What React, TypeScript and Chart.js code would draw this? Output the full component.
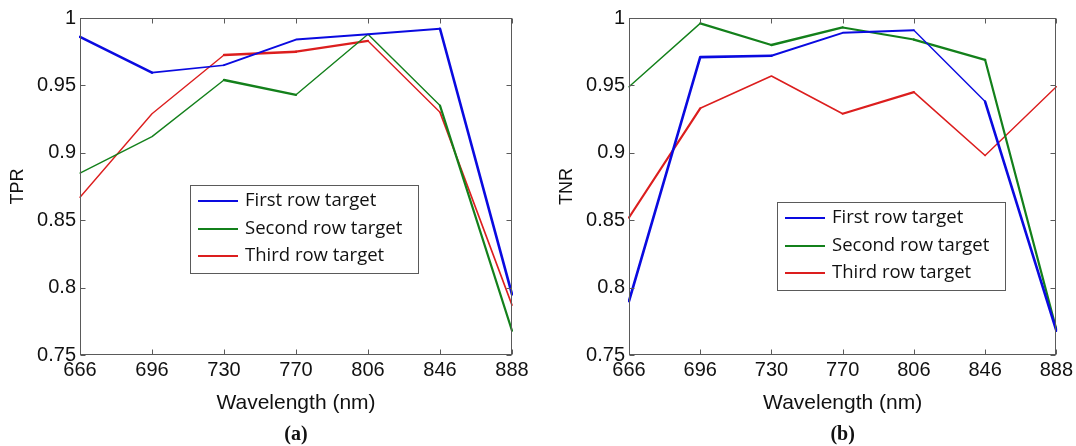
import React, { useEffect, useRef } from 'react';
import { Chart, registerables } from 'chart.js';
Chart.register(...registerables);

// ---- data ----
const wavelengths = ['666', '696', '730', '770', '806', '846', '888'];
const yTicks = [0.75, 0.8, 0.85, 0.9, 0.95, 1];
const seriesLabels = ['First row target', 'Second row target', 'Third row target'];

const tprFirst = [0.986, 0.9595, 0.965, 0.984, 0.988, 0.992, 0.795];
const tprSecond = [0.885, 0.912, 0.954, 0.943, 0.988, 0.935, 0.768];
const tprThird = [0.867, 0.929, 0.9725, 0.975, 0.983, 0.93, 0.787];

const tnrFirst = [0.79, 0.971, 0.972, 0.989, 0.991, 0.938, 0.768];
const tnrSecond = [0.949, 0.996, 0.98, 0.993, 0.984, 0.969, 0.769];
const tnrThird = [0.852, 0.933, 0.957, 0.929, 0.945, 0.898, 0.949];

// ---- styles ----
const colors = ['#0a0ae0', '#13801b', '#dc1e1e'];
const segWidthsA = [
  [2.6, 1.6, 2.0, 2.0, 2.0, 2.6],
  [1.4, 1.4, 2.4, 1.4, 1.4, 2.2],
  [1.4, 1.4, 2.4, 2.2, 1.4, 1.6],
];
const segWidthsB = [
  [2.6, 2.6, 2.0, 2.0, 1.4, 2.6],
  [1.4, 2.2, 2.4, 2.0, 2.4, 2.2],
  [2.2, 1.6, 1.6, 2.2, 1.6, 1.4],
];
const AXIS = '#5a5a5a';
const TEXT = '#111111';
const SANS = '"Liberation Sans", Arial, sans-serif';

const framePlugin = {
  id: 'frame',
  afterDatasetsDraw(chart: any) {
    const { ctx, chartArea: a, scales } = chart;
    const L = Math.round(a.left) + 0.5;
    const R = Math.round(a.right) - 0.5;
    const T = Math.round(a.top) + 0.5;
    const B = Math.round(a.bottom) - 0.5;
    ctx.save();
    ctx.strokeStyle = AXIS;
    ctx.lineWidth = 1;
    ctx.strokeRect(L, T, R - L, B - T);
    const tl = 5;
    ctx.beginPath();
    wavelengths.forEach((_, i) => {
      const x = Math.round(scales.x.getPixelForValue(i)) + 0.5;
      ctx.moveTo(x, B);
      ctx.lineTo(x, B - tl);
      ctx.moveTo(x, T);
      ctx.lineTo(x, T + tl);
    });
    yTicks.forEach((v) => {
      const y = Math.round(scales.y.getPixelForValue(v)) + 0.5;
      ctx.moveTo(L, y);
      ctx.lineTo(L + tl, y);
      ctx.moveTo(R, y);
      ctx.lineTo(R - tl, y);
    });
    ctx.stroke();
    ctx.restore();
  },
};

const boxLegendPlugin = {
  id: 'boxLegend',
  afterDraw(chart: any, _args: any, opts: any) {
    const { ctx } = chart;
    const { x, y, w, h } = opts;
    ctx.save();
    ctx.fillStyle = '#ffffff';
    ctx.fillRect(x, y, w, h);
    ctx.strokeStyle = AXIS;
    ctx.lineWidth = 1;
    ctx.strokeRect(x + 0.5, y + 0.5, w, h);
    const rows = [16, 44, 71];
    ctx.font = '18.5px "Open Sans", sans-serif';
    ctx.textBaseline = 'middle';
    ctx.textAlign = 'left';
    chart.data.datasets.forEach((ds: any, i: number) => {
      const ry = y + rows[i];
      ctx.strokeStyle = ds.borderColor;
      ctx.lineWidth = 2;
      ctx.beginPath();
      ctx.moveTo(x + 8, ry);
      ctx.lineTo(x + 48, ry);
      ctx.stroke();
      ctx.fillStyle = TEXT;
      ctx.fillText(ds.label, x + 55, ry);
    });
    ctx.restore();
  },
};

const captionPlugin = {
  id: 'caption',
  afterDraw(chart: any, _args: any, opts: any) {
    const { ctx, chartArea: a } = chart;
    ctx.save();
    ctx.font = 'bold 20px "Liberation Serif", "Times New Roman", serif';
    ctx.fillStyle = TEXT;
    ctx.textAlign = 'center';
    ctx.textBaseline = 'middle';
    ctx.fillText(opts.text, (a.left + a.right) / 2, opts.y);
    ctx.restore();
  },
};

function makeConfig(
  values: number[][],
  segWidths: number[][],
  yTitle: string,
  axisWidth: number,
  padRight: number,
  titlePad: number,
  legendPos: { x: number; y: number; w: number; h: number },
  caption: string
): any {
  return {
    type: 'line',
    data: {
      labels: wavelengths,
      datasets: values.map((vals, i) => ({
        label: seriesLabels[i],
        data: vals,
        borderColor: colors[i],
        backgroundColor: colors[i],
        borderWidth: 2,
        pointRadius: 0,
        tension: 0,
        fill: false,
        borderJoinStyle: 'round',
        borderCapStyle: 'round',
        segment: {
          borderWidth: (c: any) => segWidths[i][c.p0DataIndex],
        },
      })),
    },
    options: {
      responsive: false,
      animation: false,
      devicePixelRatio: 1,
      layout: { padding: { left: 0, right: padRight, top: 18, bottom: 0 } },
      plugins: {
        legend: { display: false },
        tooltip: { enabled: false },
        boxLegend: legendPos,
        caption: { text: caption, y: 435 },
      },
      scales: {
        x: {
          type: 'category',
          offset: false,
          grid: { display: false, drawTicks: false },
          border: { display: false },
          ticks: {
            font: { family: SANS, size: 20 },
            color: TEXT,
            padding: 3,
            maxRotation: 0,
            autoSkip: false,
          },
          title: {
            display: true,
            text: 'Wavelength (nm)',
            font: { family: SANS, size: 21 },
            color: TEXT,
            padding: { top: 0, bottom: 30 },
          },
          afterFit: (s: any) => {
            s.height = 91;
          },
        },
        y: {
          type: 'linear',
          min: 0.75,
          max: 1,
          grid: { display: false, drawTicks: false },
          border: { display: false },
          afterBuildTicks: (s: any) => {
            s.ticks = yTicks.map((v) => ({ value: v }));
          },
          ticks: {
            font: { family: SANS, size: 20 },
            color: TEXT,
            padding: 4,
            callback: (v: any) => String(Number(Number(v).toFixed(2))),
          },
          title: {
            display: true,
            text: yTitle,
            font: { family: SANS, size: 18 },
            color: TEXT,
            padding: { top: titlePad, bottom: 0 },
          },
          afterFit: (s: any) => {
            s.width = axisWidth;
          },
        },
      },
    },
    plugins: [framePlugin, boxLegendPlugin, captionPlugin],
  };
}

export default function App() {
  const leftRef = useRef<HTMLCanvasElement>(null);
  const rightRef = useRef<HTMLCanvasElement>(null);

  useEffect(() => {
    const c1 = new Chart(
      leftRef.current as HTMLCanvasElement,
      makeConfig(
        [tprFirst, tprSecond, tprThird],
        segWidthsA,
        'TPR',
        80,
        26,
        7,
        { x: 190, y: 185, w: 228, h: 88 },
        '(a)'
      )
    );
    const c2 = new Chart(
      rightRef.current as HTMLCanvasElement,
      makeConfig(
        [tnrFirst, tnrSecond, tnrThird],
        segWidthsB,
        'TNR',
        91,
        16,
        18,
        { x: 239, y: 202, w: 228, h: 88 },
        '(b)'
      )
    );
    return () => {
      c1.destroy();
      c2.destroy();
    };
  }, []);

  return (
    <div
      style={{
        position: 'absolute',
        left: 0,
        top: 0,
        width: 1076,
        height: 446,
        background: '#ffffff',
        overflow: 'hidden',
      }}
    >
      <canvas
        ref={leftRef}
        width={538}
        height={446}
        style={{ position: 'absolute', left: 0, top: 0, width: 538, height: 446 }}
      />
      <canvas
        ref={rightRef}
        width={538}
        height={446}
        style={{ position: 'absolute', left: 538, top: 0, width: 538, height: 446 }}
      />
    </div>
  );
}
